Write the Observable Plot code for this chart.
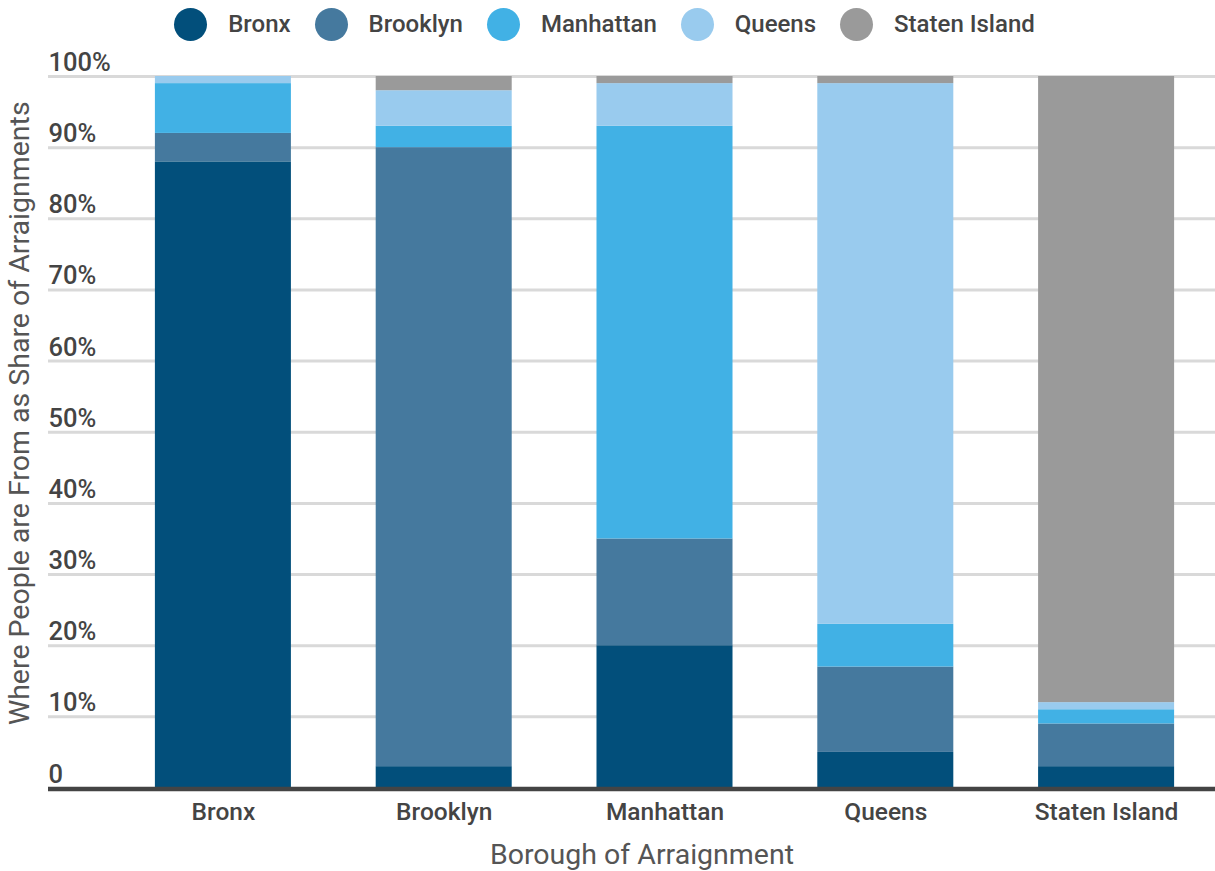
<!DOCTYPE html>
<html><head><meta charset="utf-8">
<script src="https://cdn.jsdelivr.net/npm/d3@7"></script>
<script src="https://cdn.jsdelivr.net/npm/@observablehq/plot@0.6"></script>
<style>
body{margin:0;background:#fff;font-family:Roboto,sans-serif;}
#legend{height:48px;display:flex;justify-content:center;align-items:center;padding-right:6px;}
.item{display:flex;align-items:center;margin:0 12px;}
.sw{width:33px;height:33px;border-radius:50%;margin-right:21px;}
.lab{font-size:24px;font-weight:500;color:#444;}
</style></head><body><div id="legend"></div><div id="chart"></div>
<script>
const boroughs = ["Bronx", "Brooklyn", "Manhattan", "Queens", "Staten Island"];
const origins = ["Bronx", "Brooklyn", "Manhattan", "Queens", "Staten Island"];
// share (%) of arraignments in each borough (order of boroughs) by where people are from
const fromBronx = [88, 3, 20, 5, 3];
const fromBrooklyn = [4, 87, 15, 12, 6];
const fromManhattan = [7, 3, 58, 6, 2];
const fromQueens = [1, 5, 6, 76, 1];
const fromStatenIsland = [0, 2, 1, 1, 88];
const colors = ["#024f7b", "#45799e", "#41b1e5", "#99cbee", "#9a9a9a"];
const yTicks = [0, 10, 20, 30, 40, 50, 60, 70, 80, 90, 100];
const yTitle = "Where People are From as Share of Arraignments";
const xTitle = "Borough of Arraignment";

const series = [fromBronx, fromBrooklyn, fromManhattan, fromQueens, fromStatenIsland];
const table = [];
boroughs.forEach((b, i) => {
  origins.forEach((o, j) => table.push({borough: b, origin: o, share: series[j][i]}));
});

const legend = document.getElementById("legend");
origins.forEach((o, j) => {
  const it = document.createElement("div"); it.className = "item";
  const sw = document.createElement("div"); sw.className = "sw"; sw.style.background = colors[j];
  const lab = document.createElement("span"); lab.className = "lab"; lab.textContent = o;
  it.appendChild(sw); it.appendChild(lab); legend.appendChild(it);
});

const chart = Plot.plot({
  width: 1215, height: 823,
  marginTop: 28, marginBottom: 83.5, marginLeft: 48, marginRight: 0,
  style: {fontFamily: "Roboto", background: "#fff"},
  x: {domain: boroughs, range: [112.5, 1216.5], paddingInner: 0.384, paddingOuter: 0.192, round: false, label: null},
  y: {domain: [0, 100], label: null, axis: null},
  color: {domain: origins, range: colors},
  marks: [
    Plot.ruleY(yTicks.filter(d => d > 0), {y: d => d, stroke: "#d9d9d9", strokeWidth: 3}),
    Plot.barY(table, {x: "borough", y: "share", fill: "origin"}),
    Plot.ruleY([0], {stroke: "#444", strokeWidth: 4.5, dy: 1}),
    Plot.text(yTicks, {y: d => d, text: d => d === 0 ? "0" : d + "%", frameAnchor: "left", textAnchor: "start", lineAnchor: "bottom", dy: -5.5, fontSize: 25.5, fontWeight: 500, fill: "#444"}),
    Plot.axisX({tickSize: 0, tickPadding: 15, fontSize: 24.5, fontWeight: 500, color: "#444", label: null}),
    Plot.text([yTitle], {frameAnchor: "left", textAnchor: "middle", lineAnchor: "middle", rotate: -90, dx: -29, dy: -19, fontSize: 28.5, fill: "#555"}),
    Plot.text([xTitle], {frameAnchor: "bottom", textAnchor: "middle", lineAnchor: "middle", dx: 10, dy: 67, fontSize: 28.5, fill: "#555"})
  ]
});
document.getElementById("chart").appendChild(chart);
</script></body></html>
